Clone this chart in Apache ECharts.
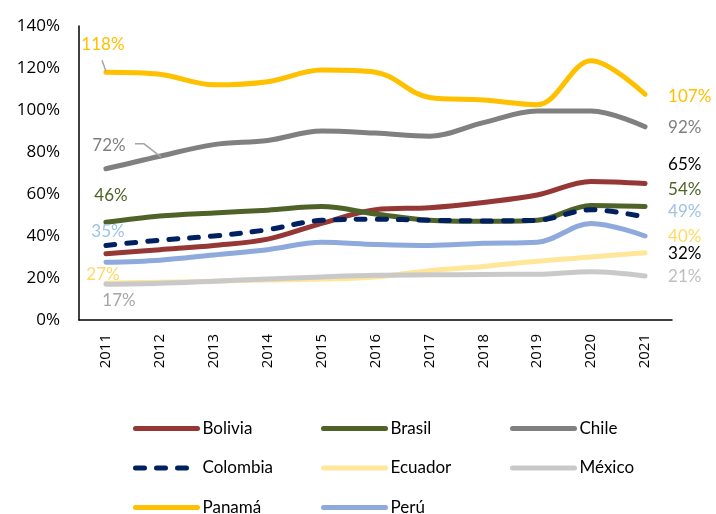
<!DOCTYPE html>
<html>
<head>
<meta charset="utf-8">
<script src="https://cdn.jsdelivr.net/npm/echarts@6/dist/echarts.min.js"></script>
<style>html,body{margin:0;padding:0;background:#fff}#c{width:716px;height:514px}</style>
</head>
<body>
<div id="c"></div>
<script>
const years = ['2011','2012','2013','2014','2015','2016','2017','2018','2019','2020','2021'];
const bolivia  = [31.5, 33.5, 35.5, 38.5, 46, 52.5, 53.5, 56, 59.5, 66, 65];
const brasil   = [46.5, 49.5, 51, 52.3, 54, 50.5, 47.5, 47, 47.5, 54.5, 54];
const chile    = [72, 78, 83.5, 85.5, 90, 89, 87.5, 94, 99.5, 99.5, 92];
const colombia = [35.5, 38, 40, 43, 47.5, 48, 47.5, 47.2, 47.5, 52.5, 49];
const ecuador  = [17.5, 18, 18.5, 19, 19.5, 20.5, 23.5, 25.5, 28, 30, 32];
const mexico   = [17, 17.5, 18.5, 19.5, 20.5, 21.3, 21.5, 21.7, 21.8, 23, 21];
const panama   = [118, 117, 112, 113.5, 119, 118, 106, 104.8, 102.5, 123.5, 107.5];
const peru     = [27.5, 28.5, 31, 33.5, 37, 36, 35.5, 36.5, 37, 46, 40];

// end labels (texts as shown in the chart)
const startLabels = {'Panamá':'118%', 'Chile':'72%', 'Brasil':'46%', 'Colombia':'35%', 'Perú':'27%', 'México':'17%'};
const endLabels = {'Panamá':'107%', 'Chile':'92%', 'Bolivia':'65%', 'Brasil':'54%', 'Colombia':'49%', 'Perú':'40%', 'Ecuador':'32%', 'México':'21%'};

const LABEL_FONT = 'Lato, "Open Sans", sans-serif';
const startStyle = {
  'Panamá':  {color:'#FFC000', offset:[-3,-28]},
  'Chile':   {color:'#7F7F7F', offset:[3,-23]},
  'Brasil':  {color:'#4F6228', offset:[5,-27]},
  'Colombia':{color:'#9DC3E6', offset:[2,-14]},
  'Perú':    {color:'#FFD966', offset:[-3,12]},
  'México':  {color:'#A6A6A6', offset:[13,16]}
};
const endStyle = {
  'Panamá':  {color:'#FFC000', dy:2},
  'Chile':   {color:'#7F7F7F', dy:1},
  'Bolivia': {color:'#000000', dy:-19},
  'Brasil':  {color:'#4F6228', dy:-17},
  'Colombia':{color:'#9DC3E6', dy:-6},
  'Perú':    {color:'#FFD966', dy:1},
  'Ecuador': {color:'#000000', dy:1},
  'México':  {color:'#BFBFBF', dy:1}
};

const seriesDefs = [
  {name:'Bolivia', data:bolivia, color:'#953735'},
  {name:'Brasil', data:brasil, color:'#4F6228'},
  {name:'Chile', data:chile, color:'#808080'},
  {name:'Colombia', data:colombia, color:'#002060', dash:[9,12]},
  {name:'Ecuador', data:ecuador, color:'#FFE699'},
  {name:'México', data:mexico, color:'#C9C9C9'},
  {name:'Panamá', data:panama, color:'#FFC000'},
  {name:'Perú', data:peru, color:'#8EA9DB'}
];

const series = seriesDefs.map(d=>({
  name:d.name, type:'line', smooth:0.35, symbol:'none', showSymbol:false,
  data:d.data,
  lineStyle:{color:d.color, width:5, type:d.dash||'solid', cap:'round', join:'round'},
  itemStyle:{color:d.color},
  emphasis:{disabled:true},
  z: 2
}));

const chart = echarts.init(document.getElementById('c'), null, {renderer:'canvas'});
const legendCommon = {orient:'vertical', itemWidth:62, itemHeight:14, itemGap:22.5, padding:0,
  itemStyle:{opacity:0},
  lineStyle:{width:5, cap:'round'},
  textStyle:{fontSize:17, lineHeight:14, fontFamily:LABEL_FONT, color:'#000'}, selectedMode:false};
chart.setOption({
  animation:false,
  grid:{left:79, right:44, top:26, bottom:194, containLabel:false},
  xAxis:{type:'category', data:years, boundaryGap:true,
    axisLine:{lineStyle:{color:'#000', width:1.5}}, axisTick:{show:false},
    axisLabel:{rotate:90, fontSize:15, fontFamily:'"Open Sans", sans-serif', color:'#000', margin:14}},
  yAxis:{type:'value', min:0, max:140, interval:20,
    axisLine:{show:true, lineStyle:{color:'#000', width:1.5}}, axisTick:{show:false},
    splitLine:{show:false},
    axisLabel:{formatter:v=>v+'%', fontSize:17, fontFamily:'"Open Sans", sans-serif', color:'#000', margin:19}},
  legend:[
    Object.assign({left:133, top:420, height:200, data:['Bolivia','Colombia','Panamá']}, legendCommon),
    Object.assign({left:321, top:420, height:200, data:['Brasil','Ecuador','Perú']}, legendCommon),
    Object.assign({left:510, top:420, height:200, data:['Chile','México']}, legendCommon)
  ],
  series:series
});

function px(seriesName, idx){
  const si = seriesDefs.findIndex(d=>d.name===seriesName);
  return chart.convertToPixel({seriesIndex:si}, [idx, seriesDefs[si].data[idx]]);
}
const graphics = [];
Object.keys(startLabels).forEach(name=>{
  const p = px(name, 0), s = startStyle[name];
  graphics.push({type:'text', x:p[0]+s.offset[0], y:p[1]+s.offset[1], z:20,
    style:{text:startLabels[name], fill:s.color, font:'17px '+LABEL_FONT, align:'center', verticalAlign:'middle'}});
});
Object.keys(endLabels).forEach(name=>{
  const p = px(name, years.length-1), s = endStyle[name];
  graphics.push({type:'text', x:p[0]+23, y:p[1]+s.dy, z:20,
    style:{text:endLabels[name], fill:s.color, font:'17px '+LABEL_FONT, align:'left', verticalAlign:'middle'}});
});
// leader lines for two start labels
const pP = px('Panamá',0), pC = px('Chile',0);
graphics.push(
  {type:'polyline', shape:{points:[[pP[0]-4,pP[1]-12],[pP[0],pP[1]-1]]}, style:{stroke:'#A6A6A6', lineWidth:1.5, fill:null}, z:10},
  {type:'polyline', shape:{points:[[pC[0]+29,pC[1]-25],[pC[0]+38,pC[1]-25],[pC[0]+55,pC[1]-12]]}, style:{stroke:'#A6A6A6', lineWidth:1.5, fill:null}, z:10}
);
chart.setOption({graphic:graphics});
</script>
</body>
</html>
